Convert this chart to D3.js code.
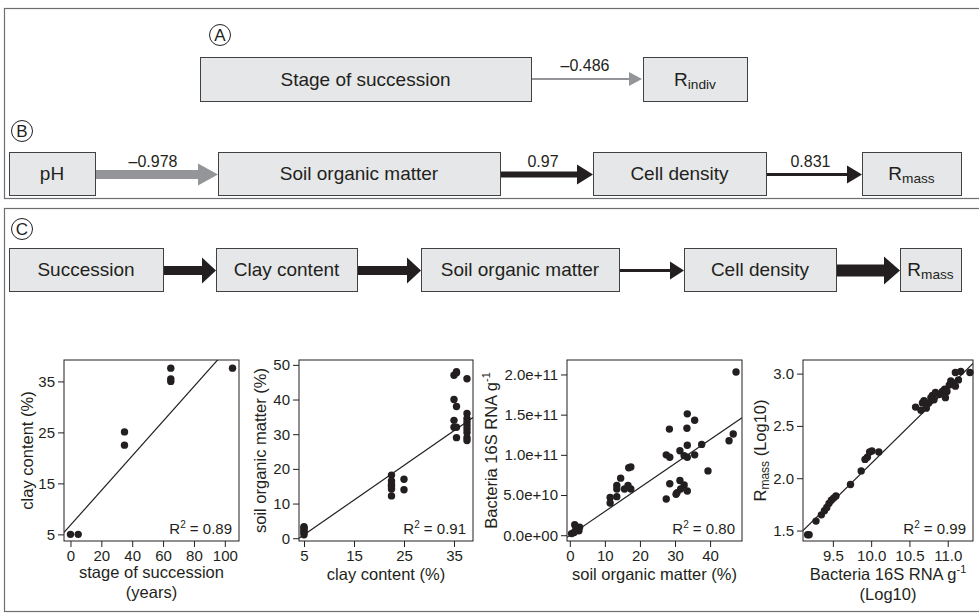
<!DOCTYPE html>
<html><head><meta charset="utf-8">
<script src="https://cdn.jsdelivr.net/npm/d3@7"></script>
<style>
body{margin:0;background:#fff}
svg{display:block}
text{font-family:"Liberation Sans",Arial,Helvetica,sans-serif;fill:#231f20}
</style>
</head><body><script>
// ---------- DATA ----------
// Panel A / B / C path diagrams
const pathA = ["Stage of succession", "R_indiv"];
const coefA = ["\u20130.486"];
const pathB = ["pH", "Soil organic matter", "Cell density", "R_mass"];
const coefB = ["\u20130.978", "0.97", "0.831"];
const pathC = ["Succession", "Clay content", "Soil organic matter", "Cell density", "R_mass"];

// Scatter 1: clay content vs stage of succession
const p1Years = [0, 5, 35, 35, 65, 65, 65, 105];
const p1Clay  = [5, 5, 25.1, 22.5, 37.6, 35.5, 35.0, 37.6];
const p1Fit   = [6.8, 0.34];        // intercept, slope
const p1R2    = "0.89";
const p1XTicks = [0, 20, 40, 60, 80, 100];
const p1YTicks = [5, 15, 25, 35];

// Scatter 2: soil organic matter vs clay content
const p2Clay = [5,5,5,5,5,5, 22.5,22.5,22.5,22.5,22.5,22.5, 25,25,
  35,35,35,35, 35.5,35.5,35.5,35.5,35.5,
  37.6,37.6,37.6,37.6,37.6,37.6,37.6,37.6,37.6];
const p2Som  = [1.0,1.5,2.0,2.5,3.0,3.3, 18.2,16.5,15.5,15.0,14.2,12.2, 17.0,14.0,
  47.0,40.0,34.0,32.0, 47.7,48.0,38.0,32.0,29.0,
  46.0,36.0,34.5,33.5,32.5,31.5,30.5,29.0,28.2];
const p2Fit  = [-4.0, 1.0];
const p2R2   = "0.91";
const p2XTicks = [5, 15, 25, 35];
const p2YTicks = [0, 10, 20, 30, 40, 50];

// Scatter 3: bacteria 16S RNA g-1 vs soil organic matter
const p3Som  = [47.4,33.5,35.6,33.4,28.4,37.6,46.6,45.4,31.4,33.5,27.5,28.5,32.6,33.5,35.6,39.4,
  28.5,31.4,32.6,31.6,30.6,30.3,33.5,27.5,17.4,16.8,14.5,13.4,13.4,16.6,15.6,17.4,11.5,13.4,11.5,
  0.5,1.2,1.6,2.1,2.6,1.4,2.8,1.8];
const p3Bact = [203e9,151e9,143e9,133e9,132e9,113e9,126e9,117.5e9,105e9,112e9,100e9,97e9,99e9,97e9,100e9,80e9,
  64e9,68e9,62.5e9,57.5e9,53e9,51e9,55e9,45e9,85e9,84e9,71e9,62e9,57.5e9,62e9,57.5e9,57.5e9,47e9,48e9,40e9,
  2e9,3.3e9,5.4e9,7.5e9,5.4e9,13e9,10e9,10e9];
const p3Fit  = [-0.3e9, 2.98e9];
const p3R2   = "0.80";
const p3XTicks = [0, 10, 20, 30, 40];
const p3YTicks = [0, 5e10, 1e11, 1.5e11, 2e11];
const p3YLabels = ["0.0e+00", "5.0e+10", "1.0e+11", "1.5e+11", "2.0e+11"];

// Scatter 4: Rmass (log10) vs bacteria 16S RNA g-1 (log10)
const p4Bact = [9.17,9.19,9.28,9.35,9.39,9.42,9.45,9.48,9.51,9.54,9.73,9.87,9.92,9.95,9.98,10.01,10.10,
  10.58,10.65,10.67,10.69,10.72,10.75,10.78,10.80,10.82,10.84,10.89,10.93,10.96,10.99,11.02,11.04,11.07,
  11.10,11.14,11.10,11.17,11.29,10.97];
const p4Rmass = [1.46,1.46,1.59,1.65,1.69,1.72,1.76,1.79,1.81,1.83,1.94,2.07,2.18,2.20,2.25,2.26,2.25,
  2.68,2.65,2.72,2.74,2.67,2.72,2.77,2.79,2.75,2.82,2.80,2.83,2.85,2.83,2.89,2.93,2.91,
  2.88,2.94,3.01,3.02,3.01,2.77];
const p4Fit  = [-5.06, 0.72];
const p4R2   = "0.99";
const p4XTicks = [9.5, 10.0, 10.5, 11.0];
const p4YTicks = [1.5, 2.0, 2.5, 3.0];

// ---------- DRAWING ----------
const W = 979, H = 616;
const ink = "#231f20";
const svg = d3.select("body").append("svg").attr("width", W).attr("height", H);

// panel frames
svg.append("rect").attr("x", 4.5).attr("y", 8.5).attr("width", 995).attr("height", 190)
  .attr("fill", "none").attr("stroke", "#6d6e71").attr("stroke-width", 1.2);
svg.append("rect").attr("x", 4.5).attr("y", 208.5).attr("width", 995).attr("height", 403)
  .attr("fill", "none").attr("stroke", "#6d6e71").attr("stroke-width", 1.2);

function circleLabel(cx, cy, t) {
  svg.append("circle").attr("cx", cx).attr("cy", cy).attr("r", 10.5)
    .attr("fill", "#fff").attr("stroke", ink).attr("stroke-width", 1);
  svg.append("text").attr("x", cx).attr("y", cy + 6).attr("text-anchor", "middle")
    .attr("font-size", 17).text(t);
}

function labelText(sel, label, size) {
  const parts = label.split("_");
  sel.append("tspan").text(parts[0]);
  if (parts[1]) sel.append("tspan").attr("font-size", size * 0.72).attr("dy", 3).text(parts[1]);
}

function box(x, y, w, h, label, size) {
  svg.append("rect").attr("x", x + 0.5).attr("y", y + 0.5).attr("width", w).attr("height", h)
    .attr("fill", "#e6e7e8").attr("stroke", "#414042").attr("stroke-width", 1);
  const t = svg.append("text").attr("x", x + w / 2).attr("y", y + h / 2 + size * 0.36)
    .attr("text-anchor", "middle").attr("font-size", size);
  labelText(t, label, size);
}

function arrow(x0, x1, y, shaft, headH, headL, color) {
  const xs = x1 - headL;
  svg.append("path")
    .attr("d", `M${x0},${y - shaft / 2}L${xs},${y - shaft / 2}L${xs},${y - headH / 2}L${x1},${y}L${xs},${y + headH / 2}L${xs},${y + shaft / 2}L${x0},${y + shaft / 2}Z`)
    .attr("fill", color);
}

// Panel A
circleLabel(220, 35, "A");
const aBoxes = [{x: 200, w: 331}, {x: 643, w: 104}];
aBoxes.forEach((b, i) => box(b.x, 57, b.w, 44, pathA[i], 19));
arrow(532, 642, 79, 2, 14, 13, "#939598");
svg.append("text").attr("x", 585).attr("y", 71).attr("text-anchor", "middle").attr("font-size", 16).text(coefA[0]);

// Panel B
circleLabel(22, 131, "B");
const bBoxes = [{x: 9, w: 86}, {x: 218, w: 282}, {x: 593, w: 173}, {x: 862, w: 99}];
const by = 152, bh = 43;
bBoxes.forEach((b, i) => box(b.x, by, b.w, bh, pathB[i], 19));
const bArrows = [{s: 9, hh: 22, hl: 20, c: "#939598"}, {s: 6, hh: 20, hl: 16, c: "#231f20"}, {s: 3, hh: 18, hl: 15, c: "#231f20"}];
bArrows.forEach((a, i) => {
  const x0 = bBoxes[i].x + bBoxes[i].w + 1, x1 = bBoxes[i + 1].x;
  arrow(x0, x1, by + bh / 2 + 1, a.s, a.hh, a.hl, a.c);
  svg.append("text").attr("x", (x0 + x1) / 2 - 4).attr("y", by + bh / 2 - 7)
    .attr("text-anchor", "middle").attr("font-size", 16).text(coefB[i]);
});

// Panel C
circleLabel(22, 229, "C");
const cBoxes = [{x: 9, w: 154}, {x: 216, w: 141}, {x: 421, w: 198}, {x: 684, w: 152}, {x: 900, w: 61}];
const cy = 248, ch = 43;
cBoxes.forEach((b, i) => box(b.x, cy, b.w, ch, pathC[i], 19));
const cArrows = [{s: 9, hh: 26, hl: 14}, {s: 9, hh: 26, hl: 14}, {s: 3, hh: 18, hl: 14}, {s: 12, hh: 28, hl: 16}];
cArrows.forEach((a, i) => {
  const x0 = cBoxes[i].x + cBoxes[i].w + 1, x1 = cBoxes[i + 1].x;
  arrow(x0, x1, cy + ch / 2 + 1, a.s, a.hh, a.hl, "#231f20");
});

// ---------- scatter plots ----------
function scatter(o) {
  const g = svg.append("g");
  const x = d3.scaleLinear().domain(o.xd).range([o.x0, o.x1]);
  const y = d3.scaleLinear().domain(o.yd).range([o.y1, o.y0]);
  const id = "clip" + o.x0;
  svg.append("clipPath").attr("id", id).append("rect")
    .attr("x", o.x0).attr("y", o.y0).attr("width", o.x1 - o.x0).attr("height", o.y1 - o.y0);

  const xa = d3.axisBottom(x).tickValues(o.xt).tickSize(6).tickPadding(3).tickSizeOuter(0)
    .tickFormat(o.xf || (d => d));
  const ya = d3.axisLeft(y).tickValues(o.yt).tickSize(6).tickPadding(3).tickSizeOuter(0)
    .tickFormat(o.yf || (d => d));
  const gx = g.append("g").attr("transform", `translate(0,${o.y1})`).call(xa);
  const gy = g.append("g").attr("transform", `translate(${o.x0},0)`).call(ya);
  [gx, gy].forEach(a => {
    a.select(".domain").remove();
    a.selectAll("line").attr("stroke", ink);
    a.selectAll("text").attr("font-size", 15).attr("fill", ink)
      .attr("font-family", '"Liberation Sans",Arial,sans-serif');
  });

  g.append("rect").attr("x", o.x0).attr("y", o.y0).attr("width", o.x1 - o.x0).attr("height", o.y1 - o.y0)
    .attr("fill", "none").attr("stroke", ink).attr("stroke-width", 1);

  // regression line
  g.append("line").attr("clip-path", `url(#${id})`)
    .attr("x1", x(o.xd[0])).attr("y1", y(o.fit[0] + o.fit[1] * o.xd[0]))
    .attr("x2", x(o.xd[1])).attr("y2", y(o.fit[0] + o.fit[1] * o.xd[1]))
    .attr("stroke", ink).attr("stroke-width", 1.2);

  g.selectAll("circle.pt").data(o.xs.map((v, i) => [v, o.ys[i]])).join("circle")
    .attr("class", "pt").attr("cx", d => x(d[0])).attr("cy", d => y(d[1])).attr("r", 3.7).attr("fill", ink);

  // R2
  const r = g.append("text").attr("x", o.x1 - 7).attr("y", o.y1 - 7).attr("text-anchor", "end").attr("font-size", 15);
  r.append("tspan").text("R");
  r.append("tspan").attr("font-size", 10).attr("dy", -6).text("2");
  r.append("tspan").attr("dy", 6).text(" = " + o.r2);

  // x label
  o.xl.forEach((l, i) => {
    const t = g.append("text").attr("x", (o.x0 + o.x1) / 2).attr("y", o.xly[i])
      .attr("text-anchor", "middle").attr("font-size", 16.5);
    l(t);
  });
  const yt = g.append("text").attr("transform", `translate(${o.ylx},${(o.y0 + o.y1) / 2}) rotate(-90)`)
    .attr("text-anchor", "middle").attr("font-size", 16.5);
  o.yl(yt);
}
const sup = (t, base, s) => { t.append("tspan").text(base); t.append("tspan").attr("font-size", 11).attr("dy", -7).text(s); };

const Y0 = 360, Y1 = 541;
scatter({x0: 64, x1: 239, y0: Y0, y1: Y1, xd: [-4.2, 109.2], yd: [3.7, 39.2],
  xs: p1Years, ys: p1Clay, fit: p1Fit, r2: p1R2, xt: p1XTicks, yt: p1YTicks,
  xl: [t => t.text("stage of succession"), t => t.text("(years)")], xly: [578, 598],
  ylx: 33, yl: t => t.text("clay content (%)")});

scatter({x0: 299, x1: 473, y0: Y0, y1: Y1, xd: [4.0, 38.8], yd: [-0.8, 51.4],
  xs: p2Clay, ys: p2Som, fit: p2Fit, r2: p2R2, xt: p2XTicks, yt: p2YTicks,
  xl: [t => t.text("clay content (%)")], xly: [580],
  ylx: 266, yl: t => t.text("soil organic matter (%)")});

scatter({x0: 567, x1: 742, y0: Y0, y1: Y1, xd: [-0.8, 49.1], yd: [-7.2e9, 218e9],
  xs: p3Som, ys: p3Bact, fit: p3Fit, r2: p3R2, xt: p3XTicks, yt: p3YTicks,
  yf: (d, i) => p3YLabels[i],
  xl: [t => t.text("soil organic matter (%)")], xly: [580],
  ylx: 497, yl: t => sup(t, "Bacteria 16S RNA g", "-1")});

scatter({x0: 803, x1: 973, y0: Y0, y1: Y1, xd: [9.11, 11.33], yd: [1.40, 3.13],
  xs: p4Bact, ys: p4Rmass, fit: p4Fit, r2: p4R2, xt: p4XTicks, yt: p4YTicks,
  xf: d => d.toFixed(1), yf: d => d.toFixed(1),
  xl: [t => sup(t, "Bacteria 16S RNA g", "-1"), t => t.text("(Log10)")], xly: [580, 600],
  ylx: 766, yl: t => { t.append("tspan").text("R"); t.append("tspan").attr("font-size", 12).attr("dy", 3).text("mass");
    t.append("tspan").attr("dy", -3).text(" (Log10)"); }});
</script></body></html>
